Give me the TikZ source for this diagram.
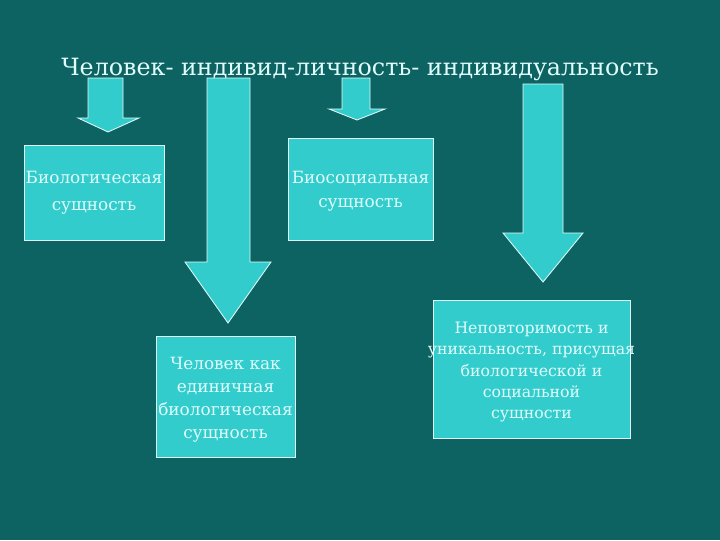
\documentclass[tikz,border=0pt]{standalone}
\usepackage{fontspec}
\setmainfont{DejaVu Serif}
\usepackage{tikz}
\usetikzlibrary{positioning}
\definecolor{bgteal}{rgb}{0.05,0.39,0.38}
\definecolor{turq}{rgb}{0.2,0.8,0.8}
\definecolor{paletxt}{rgb}{0.88,0.99,0.99}
\tikzset{
  essence/.style={draw=paletxt,line width=0.6pt,fill=turq,inner sep=0pt},
  essencetext/.style={text=paletxt,align=center,inner sep=0pt},
  blockarrow/.style={draw=paletxt,line width=0.6pt,fill=turq,line join=miter}
}
\begin{document}
\begin{tikzpicture}[x=0.025cm,y=-0.025cm]
\fill[bgteal] (0,0) rectangle (720,540);
\useasboundingbox (0,0) rectangle (720,540);
% title
\node[text=paletxt,font=\fontsize{16.9}{20}\selectfont] (title) at (360,69) {Человек- индивид-личность- индивидуальность};
% arrows
\draw[blockarrow] (88,78) -- (123,78) -- (123,118) -- (139,118) -- (108,132) -- (78,118) -- (88,118) -- cycle;
\draw[blockarrow] (207,78) -- (250,78) -- (250,262) -- (271,262) -- (228,323) -- (185,262) -- (207,262) -- cycle;
\draw[blockarrow] (342,78) -- (370,78) -- (370,109) -- (385,109) -- (357,120) -- (329,109) -- (342,109) -- cycle;
\draw[blockarrow] (523,84) -- (563,84) -- (563,233) -- (583,233) -- (543,282) -- (503,233) -- (523,233) -- cycle;
% boxes
\node[essence,minimum width=3.5cm,minimum height=2.375cm] (bio) at (94,192.5) {};
\node[essencetext,font=\fontsize{12}{19}\selectfont] (biotxt) at (94,193) {Биологическая\\сущность};
\node[essence,minimum width=3.625cm,minimum height=2.55cm] (biosoc) at (360.5,189) {};
\node[essencetext,font=\fontsize{12}{17}\selectfont] (biosoctxt) at (360.5,191) {Биосоциальная\\сущность};
\node[essence,minimum width=3.475cm,minimum height=3.025cm] (single) at (225.5,396.5) {};
\node[essencetext,font=\fontsize{12}{16.3}\selectfont] (singletxt) at (225.5,399.5) {Человек как\\единичная\\биологическая\\сущность};
\node[essence,minimum width=4.925cm,minimum height=3.45cm] (unique) at (531.5,369) {};
\node[essencetext,font=\fontsize{11.2}{15.2}\selectfont] (uniquetxt) at (531.5,372) {Неповторимость и\\уникальность, присущая\\биологической и\\социальной\\сущности};
\end{tikzpicture}
\end{document}
